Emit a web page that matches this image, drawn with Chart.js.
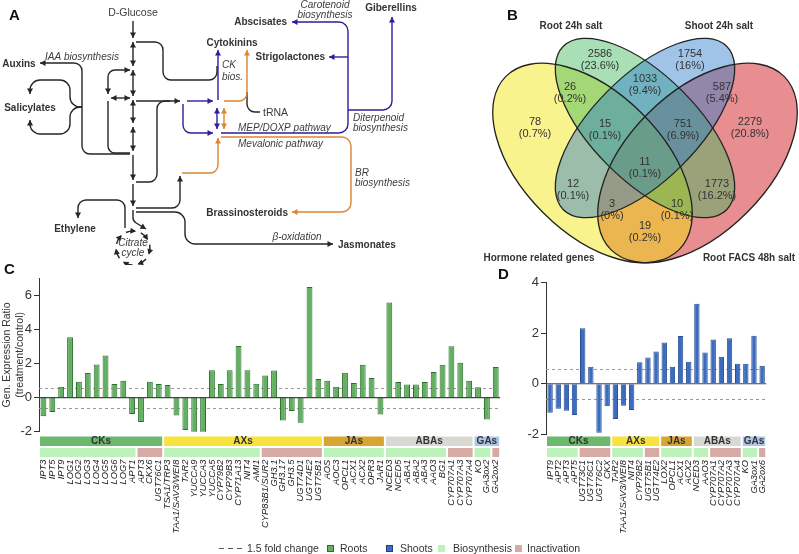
<!DOCTYPE html>
<html>
<head>
<meta charset="utf-8">
<script src="https://cdn.jsdelivr.net/npm/chart.js@4.4.1/dist/chart.umd.min.js"></script>
<style>
  body { margin: 0; background: #fff; font-family: "Liberation Sans", Arial, sans-serif; }
  #page { position: relative; width: 799px; height: 554px; overflow: hidden; }
  canvas { position: absolute; }
  .tag { position: absolute; font-weight: bold; font-size: 15px; color: #111; line-height: 1; }
  .leg { position: absolute; top: 542px; font-size: 10.5px; color: #333; line-height: 12px; white-space: nowrap; }
  .sw { position: absolute; top: 545px; width: 7px; height: 7px; box-sizing: border-box; }
  .dash { position: absolute; top: 548px; width: 5px; height: 1px; background: #555; }
</style>
</head>
<body>
<div id="page">
  <canvas id="pA" width="420" height="265" style="left:0;top:0"></canvas>
  <canvas id="pB" width="379" height="265" style="left:420px;top:0"></canvas>
  <canvas id="pC" width="535" height="289" style="left:0;top:265px"></canvas>
  <canvas id="pD" width="279" height="289" style="left:520px;top:265px"></canvas>
  <div class="tag" style="left:9px;top:7px">A</div>
  <div class="tag" style="left:507px;top:7px">B</div>
  <div class="tag" style="left:4px;top:261px">C</div>
  <div class="tag" style="left:498px;top:266px">D</div>

  <div class="dash" style="left:219px"></div>
  <div class="dash" style="left:228px"></div>
  <div class="dash" style="left:237px"></div>
  <div class="leg" style="left:247px">1.5 fold change</div>
  <div class="sw" style="left:327px;background:#63b063;border:1px solid #2e6e2e"></div>
  <div class="leg" style="left:340px">Roots</div>
  <div class="sw" style="left:386px;background:#3b6cbf;border:1px solid #243f7a"></div>
  <div class="leg" style="left:400px">Shoots</div>
  <div class="sw" style="left:438px;background:#bdf2bd"></div>
  <div class="leg" style="left:453px">Biosynthesis</div>
  <div class="sw" style="left:515px;background:#d6aaa5"></div>
  <div class="leg" style="left:527px">Inactivation</div>
</div>
<script>
// ---- panel C: roots
const rootGenes = ['IPT3','IPT5','IPT9','LOG1','LOG2','LOG3','LOG4','LOG5','LOG6','LOG7','APT1','APT3','CKX6','UGT76C1',
  'TSA1/TRP3','TAA1/SAV3/WEI8','TAR2','YUCCA9','YUCCA3','YUCCA5','CYP79B2','CYP79B3','CYP71A13','NIT4','AMI1',
  'CYP83B1/SUR2','GH3.1','GH3.17','GH3.5','UGT74D1','UGT74E2','UGT75B1',
  'AOS','AOC3','OPCL1','ACX1','ACX2','OPR3','JAR1',
  'NCED3','NCED5','ABA1','ABA2','ABA3','AAO3','BG1','CYP707A1','CYP707A3','CYP707A4',
  'KO','GA3ox2','GA2ox2'];
const rootRatio = [-1.09,-0.85,0.63,3.53,0.93,1.43,1.94,2.46,0.79,0.99,-0.97,-1.43,0.93,0.79,
  0.73,-1.05,-1.9,-2.24,-2.14,1.6,0.79,1.6,3.02,1.6,0.81,
  1.29,1.59,-1.35,-0.79,-1.47,6.47,1.09,
  0.99,0.63,1.45,0.85,1.92,1.15,-0.99,
  5.56,0.91,0.77,0.77,0.91,1.49,1.92,3.0,2.04,0.99,
  0.6,-1.29,1.79];
const rootGroups = [['CKs',14],['AXs',18],['JAs',7],['ABAs',10],['GAs',3]];
const rootRoles = [['bio',11],['ina',3],['bio',11],['ina',7],['bio',7],['bio',7],['ina',3],['bio',2],['ina',1]];

// ---- panel D: shoots
const shootGenes = ['IPT9','APT2','APT3','APT5','UGT73C1','UGT76C1','UGT76C2','CKX',
  'TAR2','TAA1/SAV3/WEI8','NIT4','CYP79B2','UGT75B1','UGT74E2',
  'LOX2','OPCL1','ACX1','ACX2',
  'NCED3','AAO3','CYP707A1','CYP707A2','CYP707A3','CYP707A4',
  'KO','GA3ox1','GA2ox6'];
const shootRatio = [-1.15,-0.99,-1.07,-1.24,2.2,0.67,-1.94,-0.89,
  -1.39,-0.87,-1.04,0.85,1.04,1.28,
  1.63,0.67,1.89,0.87,
  3.17,1.24,1.75,1.07,1.8,0.79,
  0.79,1.9,0.71];
const shootGroups = [['CKs',8],['AXs',6],['JAs',4],['ABAs',6],['GAs',3]];
const shootRoles = [['bio',4],['ina',4],['bio',4],['ina',2],['bio',4],['bio',2],['ina',4],['bio',2],['ina',1]];

const foldLine = Math.log2(1.5);

// ---- panel B: venn
const vennSets = ['Hormone related genes','Root 24h salt','Shoot 24h salt','Root FACS 48h salt'];
const vennCounts = [78,2586,1754,2279,26,1033,587,19,15,751,12,1773,3,10,11];
const vennPct = ['0.7%','23.6%','16%','20.8%','0.2%','9.4%','5.4%','0.2%','0.1%','6.9%','0.1%','16.2%','0%','0.1%','0.1%'];

const groupColors = {CKs:'#6cb86c', AXs:'#f8e23e', JAs:'#d7a630', ABAs:'#d9d9d4', GAs:'#adc7ea'};
const roleColors = {bio:'#bdf2bd', ina:'#d6aaa5'};
const FONT = '"Liberation Sans", Arial, sans-serif';

// ---------- bar charts
const bands = {
  id: 'bands',
  afterDraw(chart, args, o) {
    const {ctx, scales: {x}} = chart;
    const half = (x.getPixelForValue(1) - x.getPixelForValue(0)) / 2;
    ctx.save();
    let i = 0;
    o.groups.forEach(([name, n]) => {
      const x0 = x.getPixelForValue(i) - half + 1, x1 = x.getPixelForValue(i + n - 1) + half - 1;
      ctx.fillStyle = groupColors[name];
      ctx.fillRect(x0, 171.5, x1 - x0, 9.5);
      ctx.fillStyle = '#333';
      ctx.font = 'bold 10px ' + FONT;
      ctx.textAlign = 'center'; ctx.textBaseline = 'middle';
      ctx.fillText(name, (x0 + x1) / 2, 176.5);
      i += n;
    });
    i = 0;
    o.roles.forEach(([r, n]) => {
      const x0 = x.getPixelForValue(i) - half + 1, x1 = x.getPixelForValue(i + n - 1) + half - 1;
      ctx.fillStyle = roleColors[r];
      ctx.fillRect(x0, 183, x1 - x0, 9);
      i += n;
    });
    ctx.restore();
  }
};

const refLines = {
  id: 'refLines',
  beforeDatasetsDraw(chart) {
    const {ctx, chartArea: a, scales: {y}} = chart;
    ctx.save();
    ctx.strokeStyle = '#9a9a9a'; ctx.lineWidth = 1; ctx.setLineDash([3, 3]);
    [foldLine, -foldLine].forEach(v => {
      const py = Math.round(y.getPixelForValue(v)) + 0.5;
      ctx.beginPath(); ctx.moveTo(a.left, py); ctx.lineTo(a.right, py); ctx.stroke();
    });
    ctx.restore();
  },
  afterDatasetsDraw(chart) {
    const {ctx, chartArea: a, scales: {y}} = chart;
    const py = y.getPixelForValue(0);
    ctx.save();
    ctx.strokeStyle = '#444'; ctx.lineWidth = 1.2;
    ctx.beginPath(); ctx.moveTo(a.left, py); ctx.lineTo(a.right, py); ctx.stroke();
    ctx.restore();
  }
};

function barChart(id, labels, values, fill, edge, cfg) {
  return new Chart(document.getElementById(id), {
    type: 'bar',
    data: { labels, datasets: [{ data: values, backgroundColor: fill, borderColor: edge, borderWidth: 1,
      barPercentage: 0.66, categoryPercentage: 1 }] },
    options: {
      responsive: false, animation: false, events: [],
      layout: { padding: { top: cfg.top, right: cfg.right, bottom: 0, left: 0 } },
      plugins: { legend: { display: false }, tooltip: { enabled: false },
        bands: { groups: cfg.groups, roles: cfg.roles } },
      scales: {
        x: {
          grid: { display: false, drawTicks: false }, border: { display: false },
          ticks: { autoSkip: false, maxRotation: 90, minRotation: 90, padding: cfg.tickPad,
            color: '#222', font: { family: FONT, size: 9.3, style: 'italic' } },
          afterFit: s => { s.height = cfg.xh; }
        },
        y: {
          min: -2, max: cfg.max,
          afterBuildTicks: s => { s.ticks = s.ticks.filter(t => t.value % 2 === 0); },
          ticks: { stepSize: 2, color: '#333', font: { family: FONT, size: 13 }, padding: 2 },
          grid: { drawOnChartArea: false, drawTicks: true, tickLength: 5, tickColor: '#333' },
          border: { display: true, color: '#333', width: 1 },
          title: cfg.title ? { display: true, text: cfg.title, color: '#333',
            font: { family: FONT, size: 10.5 }, padding: { top: 1, bottom: 0 } } : { display: false },
          afterFit: s => { s.width = cfg.yw; }
        }
      }
    },
    plugins: [refLines, bands]
  });
}

barChart('pC', rootGenes, rootRatio, '#63b063', '#2e6e2e', {
  top: 13, right: 9, xh: 122.3, tickPad: 28, max: 7, yw: 39,
  title: ['Gen. Expression Ratio', '(treatment/control)'],
  groups: rootGroups, roles: rootRoles
});
barChart('pD', shootGenes, shootRatio, '#3b6cbf', '#2a4f92', {
  top: 17.7, right: 0, xh: 119.7, tickPad: 25.7, max: 4, yw: 26,
  title: null, groups: shootGroups, roles: shootRoles
});

// ---------- panel A: pathway diagram
const K = '#262626', BLU = '#2e1e9c', ORG = '#dd8631';
const pathways = [
  {c:K, p:[[133,21],[133,38]], e:1},
  {c:K, p:[[133,42],[133,66]], e:1, s:1},
  {c:K, p:[[133,70],[133,96]], e:1, s:1},
  {c:K, p:[[133,100],[133,123]], e:1, s:1},
  {c:K, p:[[133,127],[133,151]], e:1, s:1},
  {c:K, p:[[133,155],[133,180]], e:1},
  {c:K, p:[[133,184],[133,206]], e:1},
  {c:K, p:[[136,42],[163,42],[163,80],[217,80],[217,66]], r:8},
  {c:K, p:[[130,70],[108,70],[108,94]], r:7, e:1, s:1},
  {c:K, p:[[111,98],[130,98]], e:1, s:1},
  {c:K, p:[[108,101],[108,153],[130,153]], r:7},
  {c:K, p:[[130,154],[82,154],[82,63],[40,63]], r:8, e:1},
  {c:K, p:[[82,107],[70,107],[70,80],[30,80],[30,94]], r:10, e:1},
  {c:K, p:[[82,107],[70,107],[70,134],[30,134],[30,120]], r:10, e:1},
  {c:K, p:[[136,101],[180,101]], e:1},
  {c:K, p:[[136,182],[157,182],[157,101],[170,101]], r:8},
  {c:K, p:[[136,208],[180,208],[180,176]], r:8, e:1},
  {c:K, p:[[136,212],[185,212],[185,244],[333,244]], r:10, e:1},
  {c:K, p:[[247,92],[247,112],[260,112]], r:8},
  {c:K, p:[[125,228],[125,200],[78,200],[78,218]], r:8, e:1},
  {c:K, p:[[133,210],[133,221],[146,229]], r:6, e:1},
  {c:BLU, p:[[187,101],[213,101]], e:1},
  {c:BLU, p:[[183,104],[183,133],[213,133]], r:8, e:1},
  {c:BLU, p:[[217,108],[217,129]], e:1, s:1},
  {c:BLU, p:[[218,100],[218,50]], e:1},
  {c:BLU, p:[[221,133],[348,133],[348,22],[292,22]], r:9, e:1},
  {c:BLU, p:[[348,57],[329,57]], e:1},
  {c:BLU, p:[[348,110],[392,110],[392,17]], r:9, e:1},
  {c:ORG, p:[[224,108],[224,129]], e:1, s:1},
  {c:ORG, p:[[224,101],[247,101],[247,50]], r:8, e:1},
  {c:ORG, p:[[221,137],[351,137],[351,212],[292,212]], r:9, e:1},
  {c:ORG, p:[[182,173],[218,173],[218,138]], r:8, e:1}
];
const diagramText = [
  ['D-Glucose', 133, 13, 'n', 'center'],
  ['Auxins', 19, 64, 'b', 'center'],
  ['IAA biosynthesis', 82, 57, 'i', 'center'],
  ['Salicylates', 30, 108, 'b', 'center'],
  ['Cytokinins', 232, 43, 'b', 'center'],
  ['CK', 222, 65, 'i', 'left'],
  ['bios.', 222, 77, 'i', 'left'],
  ['tRNA', 263, 113, 'n', 'left'],
  ['Abscisates', 287, 22, 'b', 'right'],
  ['Strigolactones', 325, 57, 'b', 'right'],
  ['Giberellins', 391, 8, 'b', 'center'],
  ['Carotenoid', 325, 5, 'i', 'center'],
  ['biosynthesis', 325, 15, 'i', 'center'],
  ['Diterpenoid', 353, 118, 'i', 'left'],
  ['biosynthesis', 353, 128, 'i', 'left'],
  ['MEP/DOXP pathway', 238, 128, 'i', 'left'],
  ['Mevalonic pathway', 238, 144, 'i', 'left'],
  ['BR', 355, 173, 'i', 'left'],
  ['biosynthesis', 355, 183, 'i', 'left'],
  ['Brassinosteroids', 288, 213, 'b', 'right'],
  ['Ethylene', 75, 229, 'b', 'center'],
  ['\u03B2-oxidation', 297, 237, 'i', 'center'],
  ['Jasmonates', 338, 245, 'b', 'left'],
  ['Citrate', 133, 243, 'i', 'center'],
  ['cycle', 133, 253, 'i', 'center']
];

function head(ctx, from, to) {
  const ang = Math.atan2(to[1] - from[1], to[0] - from[0]);
  const L = 5.5, W = 3;
  ctx.beginPath();
  ctx.moveTo(to[0], to[1]);
  ctx.lineTo(to[0] - L * Math.cos(ang) + W * Math.sin(ang), to[1] - L * Math.sin(ang) - W * Math.cos(ang));
  ctx.lineTo(to[0] - L * Math.cos(ang) - W * Math.sin(ang), to[1] - L * Math.sin(ang) + W * Math.cos(ang));
  ctx.closePath(); ctx.fill();
}

const diagram = {
  id: 'diagram',
  afterDraw(chart) {
    const {ctx, scales: {x, y}} = chart;
    const P = p => [x.getPixelForValue(p[0]), y.getPixelForValue(p[1])];
    ctx.save();
    ctx.lineWidth = 1.4; ctx.lineCap = 'butt'; ctx.lineJoin = 'round';
    pathways.forEach(s => {
      const pts = s.p.map(P);
      ctx.strokeStyle = s.c; ctx.fillStyle = s.c;
      ctx.beginPath(); ctx.moveTo(pts[0][0], pts[0][1]);
      for (let i = 1; i < pts.length - 1; i++) ctx.arcTo(pts[i][0], pts[i][1], pts[i + 1][0], pts[i + 1][1], s.r || 8);
      const last = pts[pts.length - 1];
      ctx.lineTo(last[0], last[1]); ctx.stroke();
      if (s.e) head(ctx, pts[pts.length - 2], last);
      if (s.s) head(ctx, pts[1], pts[0]);
    });
    // citrate cycle
    const c = P([133, 248]), r = x.getPixelForValue(17) - x.getPixelForValue(0);
    ctx.strokeStyle = K; ctx.fillStyle = K; ctx.lineWidth = 1.5;
    for (let k = 0; k < 7; k++) {
      const a0 = k * 2 * Math.PI / 7 - 0.2, a1 = a0 + 0.55;
      ctx.beginPath(); ctx.arc(c[0], c[1], r, a0, a1); ctx.stroke();
      head(ctx, [c[0] + r * Math.cos(a1 - 0.15), c[1] + r * Math.sin(a1 - 0.15)],
        [c[0] + r * Math.cos(a1 + 0.05), c[1] + r * Math.sin(a1 + 0.05)]);
    }
    ctx.textBaseline = 'middle';
    diagramText.forEach(([t, tx, ty, st, al]) => {
      ctx.font = (st === 'b' ? 'bold 10px ' : st === 'i' ? 'italic 10px ' : '10.5px ') + FONT;
      ctx.fillStyle = st === 'b' ? '#333' : '#3c3c3c';
      ctx.textAlign = al;
      const q = P([tx, ty]);
      ctx.fillText(t, q[0], q[1]);
    });
    ctx.restore();
  }
};

new Chart(document.getElementById('pA'), {
  type: 'scatter',
  data: { datasets: [{ data: [] }] },
  options: { responsive: false, animation: false, events: [], layout: { padding: 0 },
    plugins: { legend: { display: false }, tooltip: { enabled: false } },
    scales: { x: { type: 'linear', min: 0, max: 420, display: false },
      y: { type: 'linear', min: 0, max: 265, reverse: true, display: false } } },
  plugins: [diagram]
});

// ---------- panel B: venn diagram
const ellipses = [
  {cx: 697.5, cy: 163, a: 122.5, b: 70, rot: -Math.PI / 4, fill: 'rgba(205,5,10,0.45)'},
  {cx: 592.5, cy: 163, a: 122.5, b: 70, rot: Math.PI / 4, fill: 'rgba(240,228,0,0.45)'},
  {cx: 645, cy: 128, a: 115.5, b: 52.5, rot: Math.PI / 4, fill: 'rgba(62,184,91,0.45)'},
  {cx: 645, cy: 128, a: 115.5, b: 52.5, rot: -Math.PI / 4, fill: 'rgba(44,124,204,0.45)'}
];
const regionPos = [[535,128],[600,60],[690,60],[750,128],[570,93],[645,85],[722,93],[645,232],
  [605,130],[683,130],[573,190],[717,190],[612,210],[677,210],[645,168]];
const setLabelPos = [[539,258],[571,26],[719,26],[749,258]];

const venn = {
  id: 'venn',
  afterDraw(chart) {
    const {ctx, scales: {x, y}} = chart;
    const P = p => [x.getPixelForValue(p[0]), y.getPixelForValue(p[1])];
    const s = x.getPixelForValue(1) - x.getPixelForValue(0);
    ctx.save();
    ellipses.forEach(e => {
      const c = P([e.cx, e.cy]);
      ctx.beginPath(); ctx.ellipse(c[0], c[1], e.a * s, e.b * s, e.rot, 0, 2 * Math.PI);
      ctx.fillStyle = e.fill; ctx.fill();
    });
    ctx.strokeStyle = '#222'; ctx.lineWidth = 1.3;
    ellipses.forEach(e => {
      const c = P([e.cx, e.cy]);
      ctx.beginPath(); ctx.ellipse(c[0], c[1], e.a * s, e.b * s, e.rot, 0, 2 * Math.PI); ctx.stroke();
    });
    ctx.fillStyle = '#333'; ctx.textAlign = 'center'; ctx.textBaseline = 'middle';
    ctx.font = '11px ' + FONT;
    vennCounts.forEach((n, i) => {
      const q = P(regionPos[i]);
      ctx.fillText(String(n), q[0], q[1] - 6);
      ctx.fillText('(' + vennPct[i] + ')', q[0], q[1] + 6);
    });
    ctx.font = 'bold 10px ' + FONT;
    vennSets.forEach((t, i) => {
      const q = P(setLabelPos[i]);
      ctx.fillText(t, q[0], q[1]);
    });
    ctx.restore();
  }
};

new Chart(document.getElementById('pB'), {
  type: 'scatter',
  data: { datasets: [{ data: [] }] },
  options: { responsive: false, animation: false, events: [], layout: { padding: 0 },
    plugins: { legend: { display: false }, tooltip: { enabled: false } },
    scales: { x: { type: 'linear', min: 420, max: 799, display: false },
      y: { type: 'linear', min: 0, max: 265, reverse: true, display: false } } },
  plugins: [venn]
});
</script>
</body>
</html>
